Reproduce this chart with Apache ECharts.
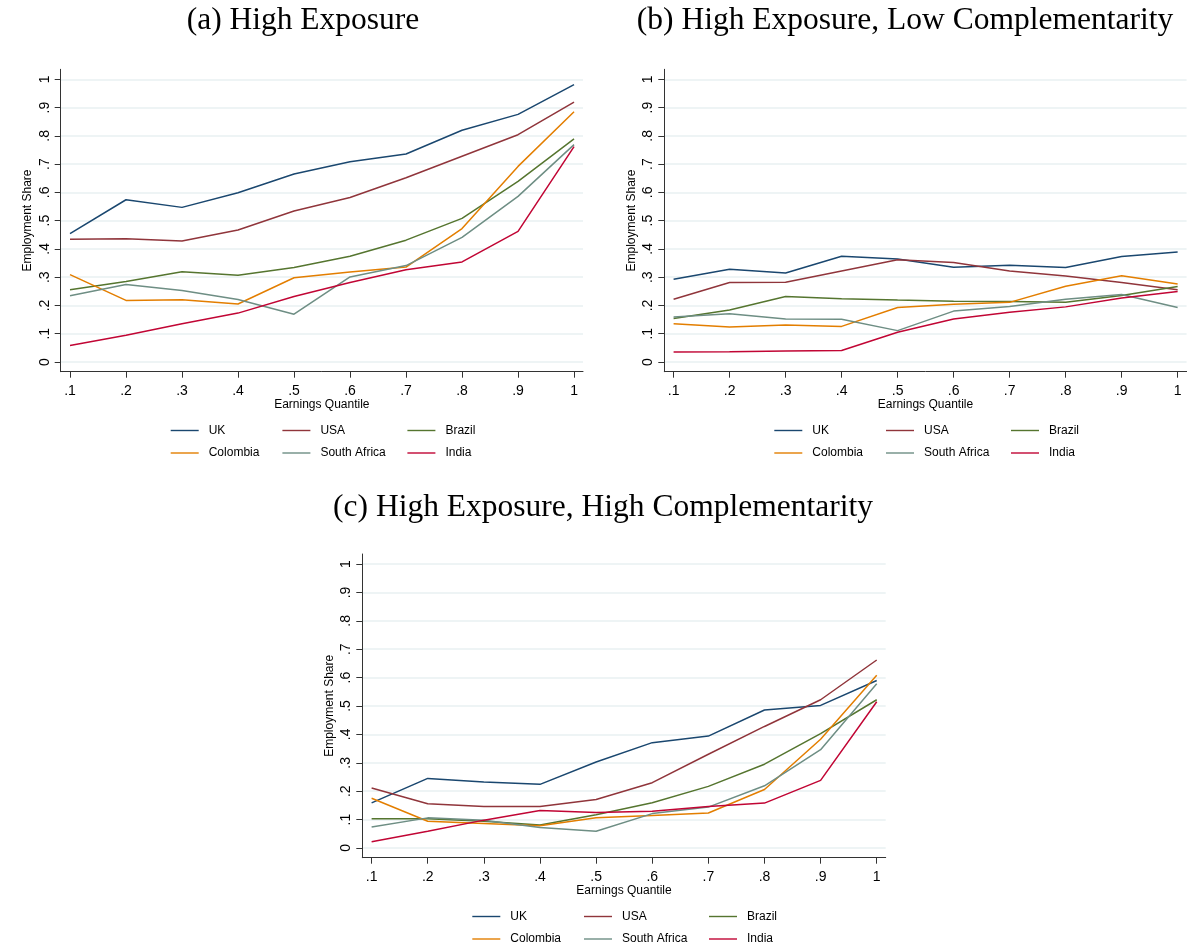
<!DOCTYPE html>
<html>
<head>
<meta charset="utf-8">
<script src="https://cdn.jsdelivr.net/npm/echarts@6/dist/echarts.min.js"></script>
<style>
html,body{margin:0;padding:0;background:#fff;}
#chart{width:1190px;height:949px;}
</style>
</head>
<body>
<div id="chart"></div>
<script>
// ---------- data ----------
const quantiles = [0.1,0.2,0.3,0.4,0.5,0.6,0.7,0.8,0.9,1];
const yTicks = [0,0.1,0.2,0.3,0.4,0.5,0.6,0.7,0.8,0.9,1];
const countries = ['UK','USA','Brazil','Colombia','South Africa','India'];
const panelTitles = [
  '(a) High Exposure',
  '(b) High Exposure, Low Complementarity',
  '(c) High Exposure, High Complementarity'
];

// Panel (a) High Exposure
const a_UK          = [0.454,0.574,0.547,0.599,0.665,0.708,0.736,0.820,0.876,0.981];
const a_USA         = [0.434,0.436,0.428,0.467,0.534,0.582,0.652,0.728,0.804,0.919];
const a_Brazil      = [0.256,0.285,0.319,0.307,0.334,0.374,0.431,0.508,0.639,0.789];
const a_Colombia    = [0.309,0.218,0.220,0.205,0.298,0.318,0.336,0.472,0.692,0.885];
const a_SouthAfrica = [0.234,0.274,0.253,0.221,0.169,0.301,0.341,0.441,0.586,0.769];
const a_India       = [0.058,0.095,0.135,0.173,0.232,0.281,0.326,0.354,0.462,0.762];

// Panel (b) High Exposure, Low Complementarity
const b_UK          = [0.293,0.328,0.315,0.374,0.364,0.335,0.342,0.334,0.373,0.389];
const b_USA         = [0.222,0.281,0.282,0.322,0.362,0.352,0.322,0.304,0.281,0.256];
const b_Brazil      = [0.154,0.184,0.232,0.224,0.219,0.215,0.214,0.211,0.235,0.267];
const b_Colombia    = [0.135,0.124,0.131,0.126,0.193,0.204,0.211,0.268,0.305,0.276];
const b_SouthAfrica = [0.159,0.171,0.152,0.151,0.111,0.180,0.196,0.222,0.239,0.193];
const b_India       = [0.035,0.036,0.039,0.041,0.105,0.152,0.176,0.195,0.226,0.249];

// Panel (c) High Exposure, High Complementarity
const c_UK          = [0.159,0.245,0.232,0.224,0.303,0.371,0.394,0.486,0.502,0.590];
const c_USA         = [0.211,0.156,0.146,0.146,0.171,0.230,0.330,0.428,0.522,0.662];
const c_Brazil      = [0.103,0.103,0.094,0.081,0.117,0.159,0.217,0.295,0.403,0.522];
const c_Colombia    = [0.175,0.094,0.086,0.078,0.106,0.114,0.123,0.206,0.383,0.608];
const c_SouthAfrica = [0.074,0.106,0.098,0.072,0.059,0.121,0.144,0.219,0.346,0.578];
const c_India       = [0.022,0.059,0.098,0.132,0.125,0.129,0.146,0.158,0.238,0.515];

const panelData = [
  [a_UK,a_USA,a_Brazil,a_Colombia,a_SouthAfrica,a_India],
  [b_UK,b_USA,b_Brazil,b_Colombia,b_SouthAfrica,b_India],
  [c_UK,c_USA,c_Brazil,c_Colombia,c_SouthAfrica,c_India]
];

// ---------- styling / layout ----------
const colors = {
  'UK':'#1a476f','USA':'#90353b','Brazil':'#55752f',
  'Colombia':'#e37e00','South Africa':'#6e8e84','India':'#c10534'
};
// plot frames: left, top (y-axis line top), width, height
const frames = [
  {left:60.7,  top:69.3,  width:522.3, height:302.4, titleX:303, titleY:18},
  {left:664.3, top:69.3,  width:522.3, height:302.4, titleX:905, titleY:18},
  {left:362.3, top:554.0, width:523.4, height:303.7, titleX:603, titleY:505}
];
const Y_MIN = -0.0343, Y_MAX = 1.0354;
const X_MIN = 0.0834, X_MAX = 1.016;

function fmt(v){
  if (Math.abs(v) < 1e-9) return '0';
  if (Math.abs(v-1) < 1e-9) return '1';
  return '.' + Math.round(v*10);
}

const grids=[], xAxes=[], yAxes=[], series=[], legends=[], titles=[];
frames.forEach((f,p)=>{
  grids.push({left:f.left, top:f.top, width:f.width, height:f.height, containLabel:false});
  titles.push({
    text: panelTitles[p], left: f.titleX, top: f.titleY - 13, textAlign:'center', padding:0,
    textStyle:{fontFamily:'Liberation Serif', fontWeight:'normal', fontSize:31.5, color:'#000'}
  });
  xAxes.push({
    type:'value', gridIndex:p, min:X_MIN, max:X_MAX,
    name:'Earnings Quantile', nameLocation:'middle', nameGap:27,
    nameTextStyle:{fontFamily:'Liberation Sans', fontSize:12, color:'#000'},
    axisLine:{show:true, onZero:false, lineStyle:{color:'#333', width:1}},
    axisTick:{show:true, length:6, lineStyle:{color:'#333'}, customValues:quantiles},
    axisLabel:{show:true, customValues:quantiles, formatter:fmt, margin:12,
      fontFamily:'Liberation Sans', fontSize:14, color:'#000'},
    splitLine:{show:false}
  });
  yAxes.push({
    type:'value', gridIndex:p, min:Y_MIN, max:Y_MAX,
    name:'Employment Share', nameLocation:'middle', nameGap:27,
    nameTextStyle:{fontFamily:'Liberation Sans', fontSize:12, color:'#000'},
    axisLine:{show:true, onZero:false, lineStyle:{color:'#333', width:1}},
    axisTick:{show:true, length:6, lineStyle:{color:'#333'}, customValues:yTicks},
    axisLabel:{show:true, customValues:yTicks, formatter:fmt, rotate:90, margin:9,
      fontFamily:'Liberation Sans', fontSize:14, color:'#000'},
    splitLine:{show:true, lineStyle:{color:'#e9f1f2', width:1.5}}
  });
  countries.forEach((c,i)=>{
    series.push({
      name:c, type:'line', xAxisIndex:p, yAxisIndex:p,
      symbol:'none', showSymbol:false, silent:true, animation:false,
      lineStyle:{color:colors[c], width:1.5},
      itemStyle:{color:colors[c]},
      data: quantiles.map((q,k)=>[q, panelData[p][i][k]])
    });
  });
  // legends: three columns, two rows
  const dx = f.left - 60.7;
  const dy = (f.top + f.height) - 371.7;
  const cols = [['UK','Colombia'],['USA','South Africa'],['Brazil','India']];
  const colX = [170, 281.7, 406.7];
  cols.forEach((names,j)=>{
    legends.push({
      orient:'vertical', left: colX[j] + dx, top: 424.5 + dy,
      itemWidth:28, itemHeight:14, itemGap:10.5, padding:0,
      selectedMode:false,
      itemStyle:{opacity:0, borderWidth:0},
      lineStyle:{width:1.4},
      data:names,
      textStyle:{fontFamily:'Liberation Sans', fontSize:12, color:'#000', padding:[0,0,0,5]}
    });
  });
});

const chart = echarts.init(document.getElementById('chart'), null, {renderer:'canvas'});
chart.setOption({
  backgroundColor:'#ffffff',
  animation:false,
  title:titles,
  grid:grids, xAxis:xAxes, yAxis:yAxes,
  legend:legends,
  series:series
});
</script>
</body>
</html>
